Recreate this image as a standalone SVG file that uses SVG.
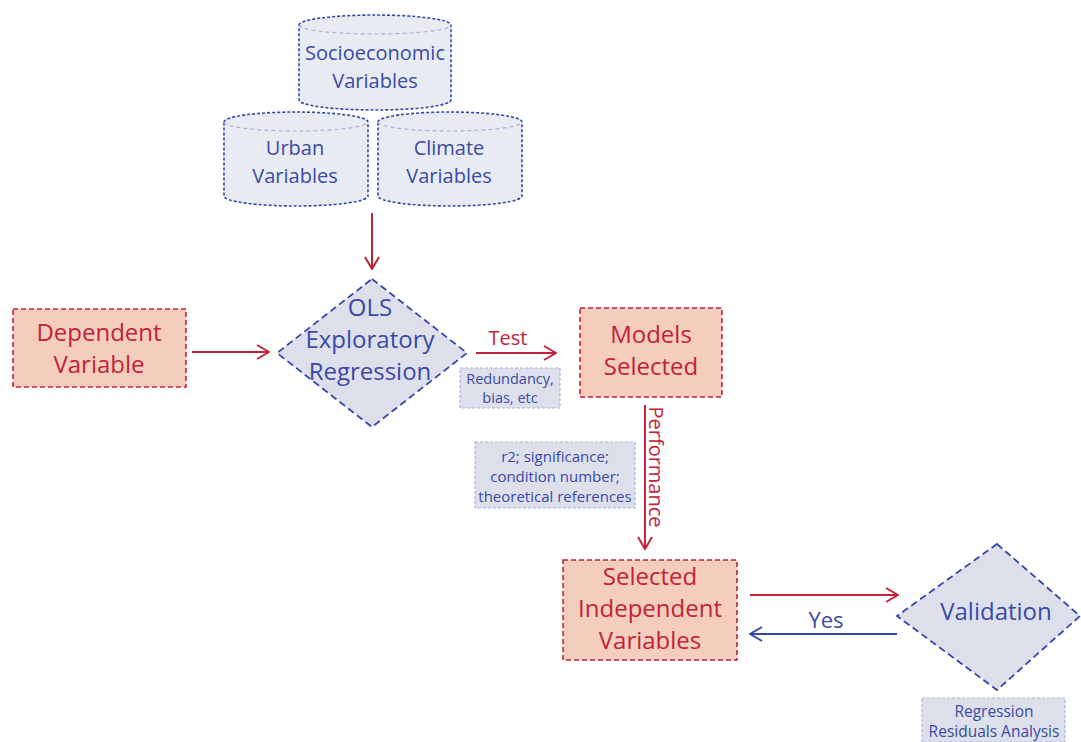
<svg xmlns="http://www.w3.org/2000/svg" width="1081" height="742" viewBox="0 0 1081 742">
<style>
text{font-family:"Open Sans","Noto Sans",sans-serif;text-anchor:middle}
.b{fill:#3a4aa6}
.r{fill:#c0233a}
.cyl{fill:#e9ebf2;stroke:#3548a8;stroke-width:1.6;stroke-dasharray:3 2}
.inner{fill:none;stroke:#a9b3dc;stroke-width:1.2;stroke-dasharray:4 3}
.sal{fill:#f5cdbd;stroke:#c0233a;stroke-width:1.6;stroke-dasharray:5 3}
.dia{fill:#dde0ea;stroke:#3548a8;stroke-width:1.8;stroke-dasharray:7 4}
.note{fill:#dde0ea;stroke:#a9b3dc;stroke-width:1.2;stroke-dasharray:3 2}
.lr{stroke:#c0233a;stroke-width:2;fill:none}
.lb{stroke:#3548a8;stroke-width:2;fill:none}
</style>
<defs>
<marker id="ar" markerWidth="14" markerHeight="16" refX="13" refY="8" orient="auto" markerUnits="userSpaceOnUse"><path d="M1,1 L13,8 L1,15" fill="none" stroke="#c0233a" stroke-width="2"/></marker>
<marker id="ab" markerWidth="14" markerHeight="16" refX="13" refY="8" orient="auto" markerUnits="userSpaceOnUse"><path d="M1,1 L13,8 L1,15" fill="none" stroke="#3548a8" stroke-width="2"/></marker>
</defs>
<rect width="1081" height="742" fill="#ffffff"/>
<g id="connectors">
<line class="lr" x1="372" y1="213" x2="372" y2="269" marker-end="url(#ar)"/>
<line class="lr" x1="192" y1="352" x2="269" y2="352" marker-end="url(#ar)"/>
<line class="lr" x1="476" y1="353" x2="556" y2="353" marker-end="url(#ar)"/>
<text class="r" x="508" y="345" font-size="20">Test</text>
<line class="lr" x1="645" y1="405" x2="645" y2="549" marker-end="url(#ar)"/>
<text class="r" x="0" y="0" font-size="20" transform="translate(649,467) rotate(90)">Performance</text>
<line class="lr" x1="750" y1="595" x2="898" y2="595" marker-end="url(#ar)"/>
<line class="lb" x1="897" y1="634" x2="750" y2="634" marker-end="url(#ab)"/>
<text class="b" x="826" y="628" font-size="22">Yes</text>
</g>
<g id="socioeconomic">
<path class="cyl" d="M299,25 A76,10 0 0 1 451,25 L451,100 A76,10 0 0 1 299,100 Z"/>
<path class="inner" d="M299,25 A76,9 0 0 0 451,25"/>
<text class="b" x="375" y="60" font-size="20">Socioeconomic</text>
<text class="b" x="375" y="88" font-size="20">Variables</text>
</g>
<g id="urban">
<path class="cyl" d="M224,122 A72,10 0 0 1 368,122 L368,196 A72,10 0 0 1 224,196 Z"/>
<path class="inner" d="M224,122 A72,9 0 0 0 368,122"/>
<text class="b" x="295" y="155" font-size="20">Urban</text>
<text class="b" x="295" y="183" font-size="20">Variables</text>
</g>
<g id="climate">
<path class="cyl" d="M378,122 A72,10 0 0 1 522,122 L522,196 A72,10 0 0 1 378,196 Z"/>
<path class="inner" d="M378,122 A72,9 0 0 0 522,122"/>
<text class="b" x="449" y="155" font-size="20">Climate</text>
<text class="b" x="449" y="183" font-size="20">Variables</text>
</g>
<g id="dependent">
<rect class="sal" x="13" y="309" width="173" height="78"/>
<text class="r" x="99" y="341" font-size="24">Dependent</text>
<text class="r" x="99" y="373" font-size="24">Variable</text>
</g>
<g id="ols">
<polygon class="dia" points="372,279 467,353 372,427 277,353"/>
<text class="b" x="370" y="316" font-size="24">OLS</text>
<text class="b" x="370" y="348" font-size="24">Exploratory</text>
<text class="b" x="370" y="380" font-size="24">Regression</text>
</g>
<g id="redundancy">
<rect class="note" x="460" y="368" width="100" height="40"/>
<text class="b" x="510" y="384" font-size="14.5">Redundancy,</text>
<text class="b" x="510" y="403" font-size="14.5">bias, etc</text>
</g>
<g id="models">
<rect class="sal" x="580" y="308" width="142" height="89"/>
<text class="r" x="651" y="343" font-size="24">Models</text>
<text class="r" x="651" y="375" font-size="24">Selected</text>
</g>
<g id="criteria">
<rect class="note" x="475" y="442" width="160" height="66"/>
<text class="b" x="555" y="462" font-size="15">r2; significance;</text>
<text class="b" x="555" y="482" font-size="15">condition number;</text>
<text class="b" x="555" y="502" font-size="15">theoretical references</text>
</g>
<g id="selected">
<rect class="sal" x="563" y="560" width="174" height="100"/>
<text class="r" x="650" y="585" font-size="24">Selected</text>
<text class="r" x="650" y="617" font-size="24">Independent</text>
<text class="r" x="650" y="649" font-size="24">Variables</text>
</g>
<g id="validation">
<polygon class="dia" points="997,544 1080,616 997,690 897,616"/>
<text class="b" x="996" y="620" font-size="24">Validation</text>
</g>
<g id="residuals">
<rect class="note" x="922" y="698" width="143" height="44"/>
<text class="b" x="994" y="717" font-size="15.5">Regression</text>
<text class="b" x="994" y="737" font-size="15.5">Residuals Analysis</text>
</g>
</svg>
